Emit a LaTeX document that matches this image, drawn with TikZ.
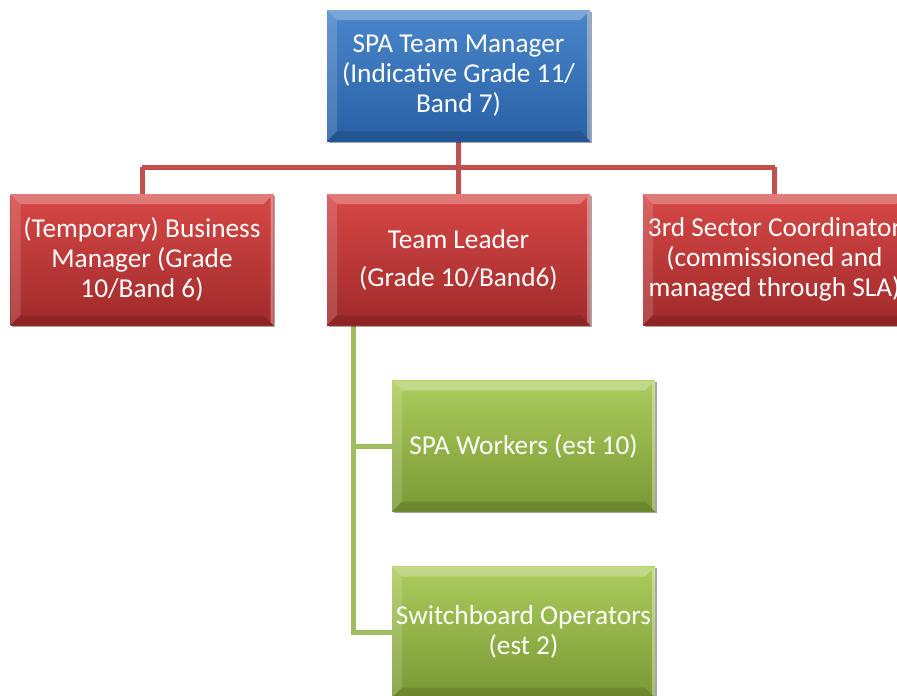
\documentclass[tikz,border=0pt]{standalone}
\usepackage{fontspec}
\setmainfont{Carlito}
\usetikzlibrary{shadows}
\definecolor{bluetop}{RGB}{74,134,204}
\definecolor{bluebot}{RGB}{40,96,164}
\definecolor{redtop}{RGB}{214,72,70}
\definecolor{redbot}{RGB}{160,42,42}
\definecolor{greentop}{RGB}{172,204,92}
\definecolor{greenbot}{RGB}{122,152,52}
\definecolor{redline}{RGB}{192,80,77}
\definecolor{greenline}{RGB}{160,190,95}
\tikzset{
  box/.style={minimum width=263pt, minimum height=131pt, inner sep=2pt,
    align=center, text=white, font=\fontsize{27.3}{30}\selectfont,
    drop shadow={shadow xshift=1.5pt, shadow yshift=-1.5pt, opacity=.35, fill=black},
    path picture={
      \fill[white,opacity=.28] (path picture bounding box.north west) -- (path picture bounding box.north east)
        -- ([shift={(-10pt,-10pt)}]path picture bounding box.north east) -- ([shift={(10pt,-10pt)}]path picture bounding box.north west) -- cycle;
      \fill[white,opacity=.15] (path picture bounding box.north west) -- (path picture bounding box.south west)
        -- ([shift={(10pt,10pt)}]path picture bounding box.south west) -- ([shift={(10pt,-10pt)}]path picture bounding box.north west) -- cycle;
      \fill[black,opacity=.12] (path picture bounding box.south west) -- (path picture bounding box.south east)
        -- ([shift={(-10pt,10pt)}]path picture bounding box.south east) -- ([shift={(10pt,10pt)}]path picture bounding box.south west) -- cycle;
      \fill[white,opacity=.35] (path picture bounding box.north east) -- (path picture bounding box.south east)
        -- ([shift={(-3pt,3pt)}]path picture bounding box.south east) -- ([shift={(-3pt,-3pt)}]path picture bounding box.north east) -- cycle;
    }},
  bluebox/.style={box, top color=bluetop, bottom color=bluebot},
  redbox/.style={box, top color=redtop, bottom color=redbot},
  greenbox/.style={box, top color=greentop, bottom color=greenbot},
  redconn/.style={draw=redline, line width=5pt},
  greenconn/.style={draw=greenline, line width=5pt}
}
\begin{document}
\begin{tikzpicture}[x=1pt,y=-1pt]
\useasboundingbox (0,0) rectangle (897,696);
\clip (0,0) rectangle (897,696);
\fill[white] (0,0) rectangle (897,696);
% connectors
\coordinate (bar) at (458.5,167);
\coordinate (barL) at (142,167);
\coordinate (barR) at (774.5,167);
\coordinate (gtop) at (353,325);
\coordinate (g1) at (353,446);
\coordinate (g2) at (353,632);
\path[redconn] (458.5,141) -- (bar);
\path[redconn] (barL) -- (barR);
\path[redconn] (barL) -- (142,194);
\path[redconn] (bar) -- (458.5,194);
\path[redconn] (barR) -- (774.5,194);
\path[greenconn] (gtop) -- (g2) -- (392,632);
\path[greenconn] (g1) -- (392,446);
% boxes
\node[bluebox] (top) at (458.5,75.5) {SPA Team Manager\\(Indicative Grade 11/\\Band 7)};
\node[redbox] (left) at (142,259.5) {(Temporary) Business\\Manager (Grade\\10/Band 6)};
\node[redbox] (mid) at (458.5,259.5) {Team Leader\\[8pt](Grade 10/Band6)};
\node[redbox] (right) at (774.5,259.5) {3rd Sector Coordinator\\(commissioned and\\managed through SLA)};
\node[greenbox] (w1) at (523.5,446) {SPA Workers (est 10)};
\node[greenbox] (w2) at (523.5,632) {Switchboard Operators\\(est 2)};
\end{tikzpicture}
\end{document}
